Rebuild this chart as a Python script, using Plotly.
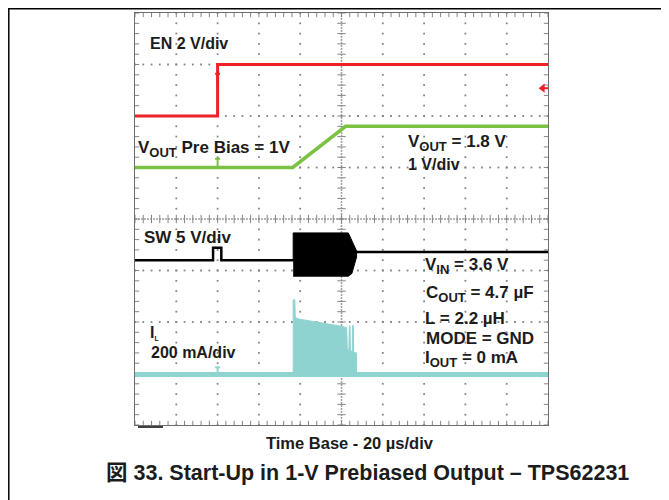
import plotly.graph_objects as go

# ---------------- data (read from the scope shot) ----------------
US_PER_DIV = 20.0          # time base
N_XDIV, N_YDIV = 10, 8
T_MAX = US_PER_DIV * N_XDIV
TRIG_T = 40.0              # trigger position (µs)

# EN, red, 2 V/div, reference level at division 6
EN_T = [0, 40, 40, 200]
EN_V = [0.0, 0.0, 2.0, 2.0]
EN_VDIV, EN_REF = 2.0, 6.0
EN_TRIG_LEVEL = 1.08

# VOUT, green, 1 V/div, reference at division 4
VOUT_T = [0, 76.4, 102.0, 200]
VOUT_V = [1.0, 1.0, 1.8, 1.8]
VOUT_VDIV, VOUT_REF = 1.0, 4.0

# SW, black, 5 V/div, reference at division 3
SW_T = [0, 37.8, 37.8, 41.8, 41.8, 76.6, 107.0, 200]
SW_V = [1.0, 1.0, 2.2, 2.2, 1.0, 1.0, 1.8, 1.8]
SW_BURST_T = [76.6, 76.6, 103.3, 107.3, 107.3, 105.0, 103.3, 76.6]
SW_BURST_V = [1.0, 3.65, 3.65, 1.9, 1.3, -0.3, -0.55, -0.55]
SW_VDIV, SW_REF = 5.0, 3.0

# IL, cyan, 200 mA/div, reference at division 1
IL_T = [0, 200]
IL_MA = [-4, -4]
IL_BURST_T = [76.6, 76.6, 77.4, 77.6, 79, 82, 86, 90, 94, 98, 101.7, 102.5,
              102.8, 103.6, 103.8, 104.1, 104.3, 105.2, 105.4, 105.7, 105.9,
              107.3, 107.3]
IL_BURST_MA = [0, 286, 286, 218, 212, 208, 204, 199, 192, 186, 180, 178,
               95, 90, 185, 185, 88, 85, 186, 186, 82, 80, 0]
IL_DIV, IL_REF = 200.0, 1.0

# ---------------- helpers ----------------
def to_div(vals, vdiv, ref):
    return [ref + v / vdiv for v in vals]

OFF = 8                      # page body margin of the written html
PX_L, PX_R, PX_T, PX_B = 135, 548, 13, 425   # page pixels of the screen area
W, H = 669, 500

def px(xp):
    return (xp - PX_L) / (PX_R - PX_L)

def py(yp):
    return (PX_B - yp) / (PX_B - PX_T)

RED = "#ec2227"
GREEN = "#7cc242"
CYAN = "#8fd3d1"
GRID = "#858585"
TXT = "#1c1c1c"
FONT = "Liberation Sans, Arial, Noto Sans CJK JP, sans-serif"

fig = go.Figure()

# ---------------- graticule ----------------
gx, gy = [], []
minor_x = [i * US_PER_DIV / 5 for i in range(N_XDIV * 5 + 1)]
minor_y = [j * 0.2 for j in range(N_YDIV * 5 + 1)]
for k in range(1, N_XDIV):
    if k == N_XDIV // 2:
        continue
    for yv in minor_y:
        gx.append(k * US_PER_DIV); gy.append(yv)
for j in range(1, N_YDIV):
    if j == N_YDIV // 2:
        continue
    for xv in minor_x:
        gx.append(xv); gy.append(j)
fig.add_trace(go.Scatter(x=gx, y=gy, mode="markers", hoverinfo="skip",
                         marker=dict(symbol="square", size=1.8, color=GRID, line_width=0)))

# centre cross lines (dense) with minor ticks
fig.add_trace(go.Scatter(x=[T_MAX / 2, T_MAX / 2], y=[0, N_YDIV], mode="lines", hoverinfo="skip",
                         line=dict(color="#a0a0a0", width=1.5, dash="2px,1px")))
fig.add_trace(go.Scatter(x=[0, T_MAX], y=[N_YDIV / 2, N_YDIV / 2], mode="lines", hoverinfo="skip",
                         line=dict(color="#a0a0a0", width=1.5, dash="2px,1px")))
fig.add_trace(go.Scatter(x=[T_MAX / 2] * len(minor_y), y=minor_y, mode="markers", hoverinfo="skip",
                         marker=dict(symbol="line-ew", size=6, line=dict(color=GRID, width=1))))
fig.add_trace(go.Scatter(x=minor_x, y=[N_YDIV / 2] * len(minor_x), mode="markers", hoverinfo="skip",
                         marker=dict(symbol="line-ns", size=6, line=dict(color=GRID, width=1))))
# border ticks
fig.add_trace(go.Scatter(x=[0] * len(minor_y) + [T_MAX] * len(minor_y), y=minor_y + minor_y,
                         mode="markers", hoverinfo="skip",
                         marker=dict(symbol="line-ew", size=6, line=dict(color=GRID, width=1))))
fig.add_trace(go.Scatter(x=minor_x + minor_x, y=[0] * len(minor_x) + [N_YDIV] * len(minor_x),
                         mode="markers", hoverinfo="skip",
                         marker=dict(symbol="line-ns", size=6, line=dict(color=GRID, width=1))))

# ---------------- traces ----------------
# IL (cyan)
fig.add_trace(go.Scatter(x=IL_BURST_T, y=to_div(IL_BURST_MA, IL_DIV, IL_REF), mode="lines",
                         fill="toself", fillcolor=CYAN, line=dict(color=CYAN, width=1),
                         hoverinfo="skip"))
fig.add_trace(go.Scatter(x=IL_T, y=to_div(IL_MA, IL_DIV, IL_REF), mode="lines",
                         line=dict(color=CYAN, width=5), hoverinfo="skip"))
# SW (black)
fig.add_trace(go.Scatter(x=SW_BURST_T, y=to_div(SW_BURST_V, SW_VDIV, SW_REF), mode="lines",
                         fill="toself", fillcolor="#000000", line=dict(color="#000000", width=1),
                         hoverinfo="skip"))
fig.add_trace(go.Scatter(x=SW_T, y=to_div(SW_V, SW_VDIV, SW_REF), mode="lines",
                         line=dict(color="#000000", width=2.5), hoverinfo="skip"))
# VOUT (green)
fig.add_trace(go.Scatter(x=VOUT_T, y=to_div(VOUT_V, VOUT_VDIV, VOUT_REF), mode="lines",
                         line=dict(color=GREEN, width=3.5), hoverinfo="skip"))
# EN (red)
fig.add_trace(go.Scatter(x=EN_T, y=to_div(EN_V, EN_VDIV, EN_REF), mode="lines",
                         line=dict(color=RED, width=3), hoverinfo="skip"))

# trigger-position "T" markers on each channel
def t_marker(level_div, color, height=0.17, half=1.2):
    fig.add_trace(go.Scatter(x=[TRIG_T - half, TRIG_T + half, None, TRIG_T, TRIG_T],
                             y=[level_div + height, level_div + height, None,
                                level_div + height, level_div],
                             mode="lines", line=dict(color=color, width=2), hoverinfo="skip"))

t_marker(EN_REF + 1.2 / EN_VDIV, RED, height=0.22)
t_marker(VOUT_REF + 1.0 / VOUT_VDIV, GREEN)
t_marker(IL_REF, CYAN, height=0.12)

# EN trigger level arrow on the right edge
lvl = EN_REF + EN_TRIG_LEVEL / EN_VDIV
fig.add_trace(go.Scatter(x=[T_MAX - 2.2, T_MAX], y=[lvl, lvl], mode="lines",
                         line=dict(color=RED, width=2), hoverinfo="skip"))
fig.add_trace(go.Scatter(x=[T_MAX - 2.6], y=[lvl], mode="markers", hoverinfo="skip",
                         marker=dict(symbol="triangle-left", size=8, color=RED, line_width=0)))

# ---------------- text ----------------
SUB = "<sub><span style='font-size:13px'>{}</span></sub>"
# (text, centre x px, centre y px, font size)
labels = [
    ("<b>EN 2 V/div</b>", 189, 44, 16),
    ("<b>V" + SUB.format("OUT") + " Pre Bias = 1V</b>", 214, 149, 17),
    ("<b>V" + SUB.format("OUT") + " = 1.8 V</b>", 457, 143, 17),
    ("<b>1 V/div</b>", 434, 165, 16),
    ("<b>SW 5 V/div</b>", 187, 237, 17),
    ("<b>V" + SUB.format("IN") + " = 3.6 V</b>", 467, 266, 17),
    ("<b>C" + SUB.format("OUT") + " = 4.7 µF</b>", 480, 294, 17),
    ("<b>L = 2.2 µH</b>", 465, 318.5, 17),
    ("<b>MODE = GND</b>", 479.5, 338, 17),
    ("<b>I" + SUB.format("OUT") + " = 0 mA</b>", 471.5, 359, 17),
    ("<b>I<sub><span style='font-size:7px'>L</span></sub></b>", 154, 333, 16),
    ("<b>200 mA/div</b>", 193, 352, 16),
]
for txt, xc, yc, size in labels:
    fig.add_annotation(text=txt, xref="paper", yref="paper", x=px(xc), y=py(yc),
                       xanchor="center", yanchor="middle", showarrow=False,
                       font=dict(family=FONT, size=size, color=TXT))

fig.add_annotation(text="<b>Time Base - 20 µs/div</b>", xref="paper", yref="paper",
                   x=px(350), y=py(443), xanchor="center", yanchor="middle", showarrow=False,
                   font=dict(family=FONT, size=16.5, color=TXT))
fig.add_annotation(text="<b>図 33. Start-Up in 1-V Prebiased Output – TPS62231</b>",
                   xref="paper", yref="paper", x=px(367), y=py(473), xanchor="center",
                   yanchor="middle", showarrow=False,
                   font=dict(family=FONT, size=21.5, color=TXT))

# page frame (top and left rules, as close to the page edge as the figure reaches)
fig.add_shape(type="line", xref="paper", yref="paper", x0=px(OFF), x1=px(W), y0=py(OFF + 0.8),
              y1=py(OFF + 0.8), line=dict(color="#000000", width=1.5))
fig.add_shape(type="line", xref="paper", yref="paper", x0=px(OFF + 0.8), x1=px(OFF + 0.8),
              y0=py(OFF), y1=py(H + OFF), line=dict(color="#000000", width=1.5))
# ground marks under the screen
fig.add_shape(type="line", xref="paper", yref="paper", x0=px(138), x1=px(163), y0=py(427), y1=py(427),
              line=dict(color="#000000", width=1.5))

fig.update_xaxes(range=[0, T_MAX], showgrid=False, zeroline=False, showticklabels=False,
                 ticks="", showline=True, mirror=True, linecolor="#6e6e6e", linewidth=1)
fig.update_yaxes(range=[0, N_YDIV], showgrid=False, zeroline=False, showticklabels=False,
                 ticks="", showline=True, mirror=True, linecolor="#6e6e6e", linewidth=1)
fig.update_layout(width=W, height=H, showlegend=False,
                  margin=dict(l=PX_L - OFF, r=W - PX_R + OFF, t=PX_T - OFF, b=H - PX_B + OFF),
                  paper_bgcolor="white", plot_bgcolor="white")

fig.write_html("out.html")
